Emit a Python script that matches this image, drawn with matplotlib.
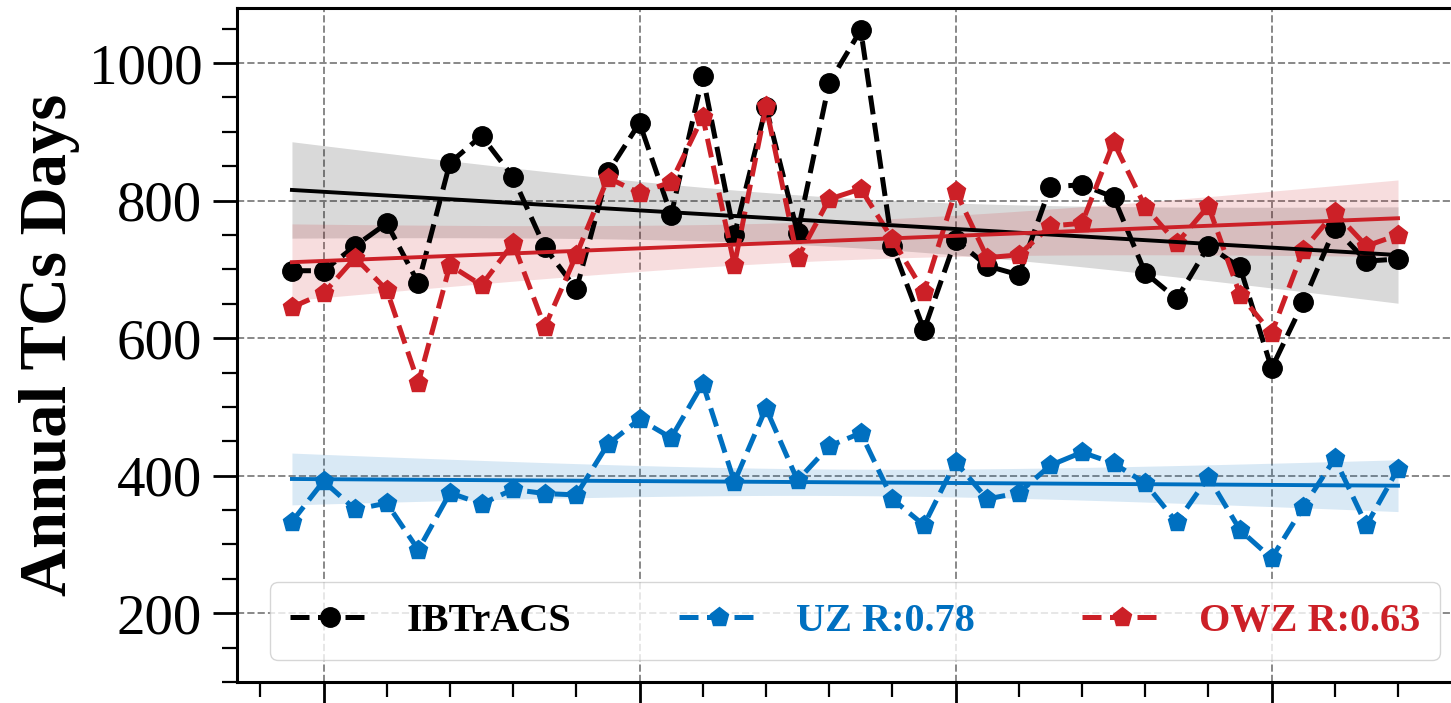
import numpy as np
import matplotlib
matplotlib.use("Agg")
import matplotlib.pyplot as plt
from matplotlib.ticker import MultipleLocator

years = list(range(1979, 2015))
ibtracs = [698, 698, 734, 767, 680, 855, 894, 834, 732, 671, 841, 913, 779, 981, 750,
           936, 753, 971, 1048, 734, 612, 743, 705, 692, 820, 823, 805, 695, 657, 734,
           703, 556, 652, 760, 712, 715]
uz = [333, 392, 351, 360, 292, 375, 359, 380, 374, 372, 446, 482, 455, 534, 391,
      498, 393, 443, 462, 366, 328, 420, 366, 375, 415, 434, 418, 389, 332, 398,
      321, 280, 354, 425, 328, 410]
owz = [645, 665, 717, 670, 535, 706, 677, 738, 616, 721, 833, 811, 827, 922, 706,
       937, 716, 802, 817, 744, 667, 814, 717, 721, 763, 767, 885, 791, 738, 792,
       663, 607, 728, 783, 734, 750]
labels = ["IBTrACS", "UZ R:0.78", "OWZ R:0.63"]
colors = ["black", "#0070c0", "#cc2027"]
markers = ["o", "p", "p"]

plt.rcParams['font.family'] = ['Liberation Serif', 'DejaVu Serif']

fig = plt.figure(figsize=(14.51, 7.03), dpi=100)
ax = fig.add_axes([0.1633, 0.0299, 0.8518, 0.9587])

x = np.array(years, dtype=float)
T_975 = 2.032  # t quantile for n-2=34 dof

handles = []
for vals, lab, col, mk in zip([ibtracs, uz, owz], labels, colors, markers):
    y = np.array(vals, dtype=float)
    h, = ax.plot(x, y, linestyle='--', color=col, marker=mk, markersize=14,
                 linewidth=3.6, label=lab, zorder=3)
    h.set_dashes((3.8, 1.7))
    handles.append(h)
    # linear regression + 95% CI
    b, a = np.polyfit(x, y, 1)
    xs = np.linspace(x.min(), x.max(), 100)
    yhat = a + b * xs
    resid = y - (a + b * x)
    n = len(x)
    s = np.sqrt(np.sum(resid ** 2) / (n - 2))
    sxx = np.sum((x - x.mean()) ** 2)
    se = s * np.sqrt(1.0 / n + (xs - x.mean()) ** 2 / sxx)
    ax.fill_between(xs, yhat - T_975 * se, yhat + T_975 * se, color=col, alpha=0.15,
                    linewidth=0, zorder=1)
    ax.plot(xs, yhat, color=col, linewidth=2.8, zorder=4)

ax.set_xlim(1977.26, 2016.37)
ax.set_ylim(100, 1080)
ax.xaxis.set_major_locator(MultipleLocator(10))
ax.xaxis.set_minor_locator(MultipleLocator(2))
ax.yaxis.set_major_locator(MultipleLocator(200))
ax.yaxis.set_minor_locator(MultipleLocator(50))

ax.grid(True, which='major', linestyle='--', color='#888888', linewidth=1.4)
ax.set_axisbelow(True)

for sp in ax.spines.values():
    sp.set_linewidth(2.2)
    sp.set_color('black')

ax.tick_params(axis='both', which='major', length=17, width=2.0, direction='out',
               labelsize=41, pad=8)
ax.tick_params(axis='both', which='minor', length=11, width=1.6, direction='out')
ax.tick_params(axis='x', labelbottom=False)

ax.set_ylabel("Annual TCs Days", fontsize=48, fontweight='bold', labelpad=6)

leg = ax.legend(handles=handles, loc='lower left', ncol=3, mode='expand',
                bbox_to_anchor=(0.0267, 0.033, 0.9466, 0.0), borderaxespad=0.0,
                prop={'weight': 'bold', 'size': 29}, handlelength=2.0,
                handletextpad=0.9, borderpad=0.5, fancybox=True,
                edgecolor='#cccccc', framealpha=0.8)
for txt, col in zip(leg.get_texts(), colors):
    txt.set_color(col)

fig.savefig("out.png", dpi=100)
